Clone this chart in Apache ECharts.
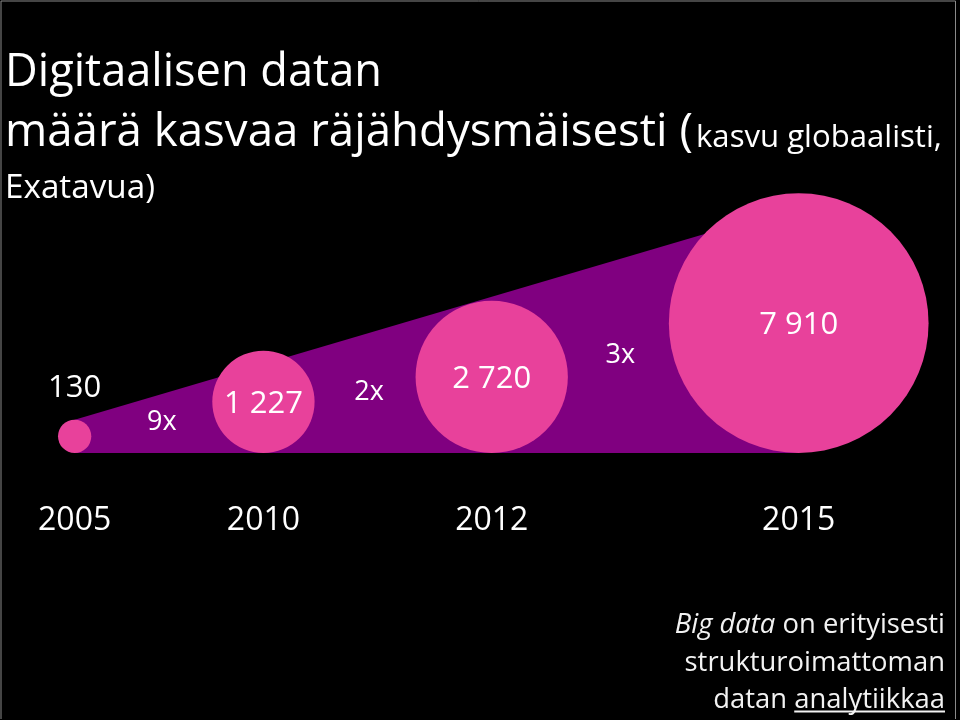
<!DOCTYPE html>
<html><head><meta charset="utf-8">
<script src="https://cdn.jsdelivr.net/npm/echarts@6/dist/echarts.min.js"></script>
<style>html,body{margin:0;padding:0;background:#000}#c{width:960px;height:720px}</style>
</head><body><div id="c"></div>
<script>
// ---- data ----
const years = ['2005', '2010', '2012', '2015'];
const volumes = [130, 1227, 2720, 7910];            // exatavua (EB)
const volumeLabels = ['130', '1 227', '2 720', '7 910'];
const titleLine1 = 'Digitaalisen datan';
const titleLine2 = 'määrä kasvaa räjähdysmäisesti (';
const titleLine2Small = 'kasvu globaalisti,';
const titleLine3 = 'Exatavua)';
const noteItalic = 'Big data';
const noteLine1Rest = ' on erityisesti';
const noteLine2 = 'strukturoimattoman';
const noteLine3a = 'datan ';
const noteLine3b = 'analytiikkaa';

// ---- style / layout ----
const PINK = '#E8419B', PURPLE = '#800080', WHITE = '#FFFFFF', NOTE = '#F2F2F2';
const FONT = 'Open Sans';
const K = 1.46;                 // circle radius per sqrt(value), px
const firstLeft = 58;           // left edge of first bubble
const gaps = [121, 101, 101];   // spacing between bubbles
const multShift = [10, 4, 2];   // horizontal nudge of growth labels
const MID = 0.30;               // em-middle above baseline (Open Sans)

const radii = volumes.map(v => K * Math.sqrt(v));
const centers = [];
let edge = firstLeft;
radii.forEach((r, i) => { if (i > 0) edge += gaps[i - 1]; centers.push(edge + r); edge += 2 * r; });
const bubbleData = volumes.map((v, i) => [centers[i], v, i]);

const mctx = document.createElement('canvas').getContext('2d');
function measure(t, font) { mctx.font = font; return mctx.measureText(t).width; }
function fit(t, w, style) { return 100 * w / measure(t, (style || '') + ' 100px "' + FONT + '"'); }
function f(size, style) { return (style || '') + ' ' + size.toFixed(2) + 'px "' + FONT + '"'; }

function textStyle(text, size, extra) {
  return Object.assign({ text: text, fill: WHITE, font: f(size), align: 'center', verticalAlign: 'middle' }, extra || {});
}

function renderWedge(params, api) {
  const n = volumes.length;
  const x0 = centers[0], x1 = centers[n - 1];
  const h0 = 2 * radii[0], h1 = 1.9 * radii[n - 1];
  const pts = [[x0, 0], [x0, h0], [x1, h1], [x1, 0]].map(p => api.coord(p));
  const children = [{ type: 'polygon', shape: { points: pts }, style: { fill: PURPLE } }];
  for (let i = 1; i < n; i++) {
    const mx = (centers[i - 1] + radii[i - 1] + centers[i] - radii[i]) / 2 + multShift[i - 1];
    const topH = h0 + (h1 - h0) * (mx - x0) / (x1 - x0);
    const p = api.coord([mx, topH / 2]);
    const mult = Math.round(volumes[i] / volumes[i - 1]) + 'x';
    children.push({ type: 'text', x: p[0], y: p[1] - 1, style: textStyle(mult, 27) });
  }
  return { type: 'group', children: children };
}

function renderBubble(params, api) {
  const i = api.value(2);
  const cx = api.value(0), v = api.value(1);
  const r = K * Math.sqrt(v);
  const c = api.coord([cx, r]);
  const rp = api.size([0, r])[1];
  const base = api.coord([cx, 0]);
  const inside = rp > 40;
  return {
    type: 'group',
    children: [
      { type: 'circle', shape: { cx: c[0], cy: c[1], r: rp }, style: { fill: PINK } },
      { type: 'text', x: c[0], y: inside ? c[1] + 2 : c[1] - rp - 32, style: textStyle(volumeLabels[i], 31) },
      { type: 'text', x: c[0], y: base[1] + 68, style: textStyle(years[i], 32) }
    ]
  };
}

// title / note sizes fitted to the reference widths
const s1 = fit(titleLine1, 377);
const s2 = fit(titleLine2, 688);
const s2s = fit(titleLine2Small, 246);
const s3 = fit(titleLine3, 150);
const sN = (fit(noteLine2, 258) + fit(noteLine3a + noteLine3b, 234)) / 2;
function textAt(x, baseline, text, size, extra) {
  return { type: 'text', x: x, y: baseline - MID * size, style: Object.assign({ text: text, font: f(size), fill: WHITE, align: 'left', verticalAlign: 'middle' }, extra || {}) };
}
const noteRight = 945;
const underlineW = measure(noteLine3b, f(sN));

const chart = echarts.init(document.getElementById('c'), null, { renderer: 'canvas' });
chart.setOption({
  backgroundColor: '#000',
  animation: false,
  grid: { left: 0, top: 0, width: 960, height: 453 },
  xAxis: { type: 'value', min: 0, max: 960, show: false },
  yAxis: { type: 'value', min: 0, max: 453, show: false },
  series: [
    { type: 'custom', data: [[0]], renderItem: renderWedge, z: 1, silent: true },
    { type: 'custom', data: bubbleData, renderItem: renderBubble, z: 2, silent: true }
  ],
  graphic: [
    textAt(5, 87, titleLine1, s1),
    textAt(5, 147, titleLine2, s2),
    textAt(696, 147, titleLine2Small, s2s),
    textAt(5, 199, titleLine3, s3),
    textAt(noteRight, 633, '{i|' + noteItalic + '}' + noteLine1Rest, sN, { align: 'right', fill: NOTE,
        rich: { i: { fontStyle: 'italic', fontSize: sN, fontFamily: FONT, fill: NOTE } } }),
    textAt(noteRight, 671, noteLine2, sN, { align: 'right', fill: NOTE }),
    textAt(noteRight, 708, noteLine3a + noteLine3b, sN, { align: 'right', fill: NOTE }),
    { type: 'line', shape: { x1: noteRight - underlineW, y1: 711.5, x2: noteRight, y2: 711.5 }, style: { stroke: NOTE, lineWidth: 2 } },
    { type: 'polyline', shape: { points: [[1, 719], [1, 1], [955.5, 1], [955.5, 719]] }, style: { stroke: '#8a8a8a', lineWidth: 1, fill: null } }
  ]
});
</script>
</body></html>
